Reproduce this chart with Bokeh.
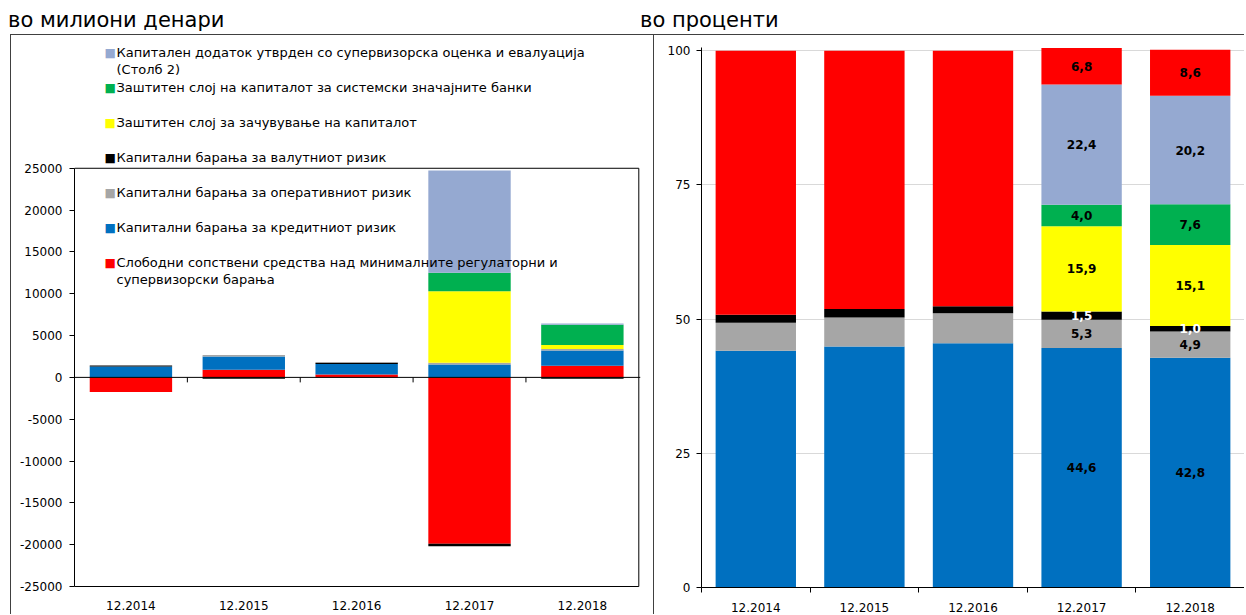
import numpy as np
from bokeh.plotting import figure
from bokeh.models import ColumnDataSource, FixedTicker, Label, Span, Div, Range1d, BoxAnnotation
from bokeh.layouts import row, column
from bokeh.embed import file_html
from bokeh.resources import INLINE
from bokeh.core.properties import value

# ---------------- data ----------------
categories = ["12.2014", "12.2015", "12.2016", "12.2017", "12.2018"]

title_left = "во милиони денари"
title_right = "во проценти"

series_keys = ["pillar2", "systemic", "conserv", "fx", "oper", "credit", "free"]
legend_lines = {
    "pillar2": ["Капитален додаток утврден со супервизорска оценка и евалуација", "(Столб 2)"],
    "systemic": ["Заштитен слој на капиталот за системски значајните банки"],
    "conserv": ["Заштитен слој за зачувување на капиталот"],
    "fx": ["Капитални барања за валутниот ризик"],
    "oper": ["Капитални барања за оперативниот ризик"],
    "credit": ["Капитални барања за кредитниот ризик"],
    "free": ["Слободни сопствени средства над минималните регулаторни и", "супервизорски барања"],
}
colors = {
    "pillar2": "#95A9D1",
    "systemic": "#00B050",
    "conserv": "#FFFF00",
    "fx": "#000000",
    "oper": "#A6A6A6",
    "credit": "#0070C0",
    "free": "#FF0000",
}

# left panel: millions of denars
free_mkd = [-1750, 910, 355, -19900, 1400]
credit_mkd = [1300, 1580, 1250, 1540, 1800]
fx_mkd = [130, -150, 130, -300, -150]
oper_mkd = [0, 200, 90, 220, 200]
conserv_mkd = [0, 0, 0, 8550, 470]
systemic_mkd = [0, 0, 0, 2210, 2410]
pillar2_mkd = [0, 0, 0, 12210, 170]

# right panel: percent
credit_pct = [44.1, 44.9, 45.5, 44.6, 42.8]
oper_pct = [5.2, 5.4, 5.6, 5.3, 4.9]
fx_pct = [1.5, 1.6, 1.3, 1.5, 1.0]
conserv_pct = [0, 0, 0, 15.9, 15.1]
systemic_pct = [0, 0, 0, 4.0, 7.6]
pillar2_pct = [0, 0, 0, 22.4, 20.2]
free_pct = [49.2, 48.1, 47.6, 6.8, 8.6]
labelled_periods = ["12.2017", "12.2018"]

left_y_ticks = list(range(-25000, 25001, 5000))
right_y_ticks = [0, 25, 50, 75, 100]

mkd = dict(free=free_mkd, credit=credit_mkd, fx=fx_mkd, oper=oper_mkd,
           conserv=conserv_mkd, systemic=systemic_mkd, pillar2=pillar2_mkd)
pct = dict(credit=credit_pct, oper=oper_pct, fx=fx_pct, conserv=conserv_pct,
           systemic=systemic_pct, pillar2=pillar2_pct, free=free_pct)

n = len(categories)
xc = np.arange(n) + 0.5
overrides = {float(x): c for x, c in zip(xc, categories)}

FONT = "DejaVu Sans"
BORDER = "1px solid #404040"

# ---------------- layout constants (pixels) ----------------
TITLE_H = 34
CANVAS_TOP = TITLE_H + 1          # page y of the first canvas row
CANVAS_H = 580
L_W, R_W = 643, 591
L_TOP = 12                        # frame top inside left canvas
L_BOTTOM = 27                     # space below the frame in the left panel
AREA_TOP_PAGE = 168               # page y of the plot-area top (25000)
PAD = 1.0                         # keeps the plot-area bottom line inside the frame
L_FRAME_H = CANVAS_H - L_BOTTOM - L_TOP
L_AREA_TOP = AREA_TOP_PAGE - CANVAS_TOP - L_TOP
L_AREA_H = L_FRAME_H - L_AREA_TOP - PAD
FRAME_BOTTOM_PAGE = CANVAS_TOP + CANVAS_H - L_BOTTOM

# ---------------- left figure ----------------
y_min, y_max = left_y_ticks[0], left_y_ticks[-1]
units_per_px = (y_max - y_min) / L_AREA_H
y_end = y_max + L_AREA_TOP * units_per_px
y_start = y_min - PAD * units_per_px

pl = figure(width=L_W, height=CANVAS_H, x_range=Range1d(0, n * 1.003), y_range=Range1d(y_start, y_end),
            title=None, output_backend="svg", toolbar_location=None, tools="",
            min_border_left=63, min_border_right=14, min_border_top=L_TOP, min_border_bottom=L_BOTTOM,
            outline_line_color=None,
            background_fill_color="white", border_fill_color="white", margin=(0, 0, 0, 10),
            styles={"border-left": BORDER, "border-top": BORDER})
pl.grid.visible = False

left_order = ["free", "credit", "fx", "oper", "conserv", "systemic", "pillar2"]
pos = np.zeros(n)
neg = np.zeros(n)
for k in left_order:
    v = np.array(mkd[k], dtype=float)
    bottom = np.where(v >= 0, pos, neg + v)
    top = np.where(v >= 0, pos + v, neg)
    pos = pos + np.where(v > 0, v, 0)
    neg = neg + np.where(v < 0, v, 0)
    src = ColumnDataSource(dict(x=xc, bottom=bottom, top=top))
    pl.vbar(x="x", bottom="bottom", top="top", width=0.73, source=src,
            fill_color=colors[k], line_color=None)

# plot-area box
pl.add_layout(BoxAnnotation(left=0, right=n, bottom=y_min, top=y_max, fill_alpha=0,
                            line_color="black", line_width=1, line_alpha=1))
# zero line and category separators on it
pl.add_layout(Span(location=0, dimension="width", line_color="black", line_width=1))
bounds = np.arange(1, n)
pl.segment(x0=bounds, y0=np.zeros(len(bounds)), x1=bounds, y1=np.full(len(bounds), -5 * units_per_px),
           line_color="black", line_width=1)

xa = pl.xaxis[0]
xa.ticker = FixedTicker(ticks=list(xc))
xa.major_label_overrides = overrides
xa.major_tick_out = 0
xa.major_tick_in = 0
xa.major_tick_line_color = None
xa.minor_tick_line_color = None
xa.axis_line_color = None
xa.major_label_standoff = 13
xa.major_label_text_font = FONT
xa.major_label_text_font_size = "12px"
xa.major_label_text_color = "black"

ya = pl.yaxis[0]
ya.ticker = FixedTicker(ticks=left_y_ticks)
ya.bounds = (y_min, y_max)
ya.major_label_overrides = {t: str(t) for t in left_y_ticks}
ya.major_tick_out = 5
ya.major_tick_in = 0
ya.minor_tick_line_color = None
ya.axis_line_color = "black"
ya.major_tick_line_color = "black"
ya.major_label_standoff = 7
ya.major_label_text_font = FONT
ya.major_label_text_font_size = "12px"
ya.major_label_text_color = "black"

# legend (screen units: from left / bottom of the plot frame)
first_row_page = 53      # page y of the first legend row centre
row_step = 35
line_step = 16.5
for i, k in enumerate(series_keys):
    yc = first_row_page + i * row_step
    pl.add_layout(Label(x=30, y=FRAME_BOTTOM_PAGE - yc, x_units="screen", y_units="screen",
                        text="■", text_color=colors[k], text_font=FONT,
                        text_font_size="12px", text_baseline="middle", text_align="left"))
    for j, line in enumerate(legend_lines[k]):
        pl.add_layout(Label(x=42, y=FRAME_BOTTOM_PAGE - (yc + j * line_step), x_units="screen", y_units="screen",
                            text=line, text_color="black", text_font=FONT,
                            text_font_size="13px", text_baseline="middle", text_align="left"))

# ---------------- right figure ----------------
pr = figure(width=R_W, height=CANVAS_H, x_range=Range1d(0, n), y_range=Range1d(0, 100.6),
            title=None, output_backend="svg", toolbar_location=None, tools="",
            min_border_left=47, min_border_right=1, min_border_top=11, min_border_bottom=28,
            outline_line_color=None,
            background_fill_color="white", border_fill_color="white", margin=0,
            styles={"border-left": BORDER, "border-top": BORDER})
pr.xgrid.visible = False
pr.ygrid.ticker = FixedTicker(ticks=right_y_ticks)
pr.ygrid.grid_line_color = "#D9D9D9"
pr.ygrid.grid_line_width = 1

right_order = ["credit", "oper", "fx", "conserv", "systemic", "pillar2", "free"]
cum = np.zeros(n)
lab_x, lab_y, lab_t, lab_c = [], [], [], []
for k in right_order:
    v = np.array(pct[k], dtype=float)
    bottom = cum.copy()
    top = cum + v
    cum = top
    src = ColumnDataSource(dict(x=xc, bottom=bottom, top=top))
    pr.vbar(x="x", bottom="bottom", top="top", width=0.74, source=src,
            fill_color=colors[k], line_color=None)
    for i, c in enumerate(categories):
        if c in labelled_periods and v[i] > 0:
            lab_x.append(xc[i])
            lab_y.append((bottom[i] + top[i]) / 2)
            lab_t.append(f"{v[i]:.1f}".replace(".", ","))
            lab_c.append("white" if k == "fx" else "black")

lsrc = ColumnDataSource(dict(x=lab_x, y=lab_y, t=lab_t, c=lab_c))
pr.text(x="x", y="y", text="t", text_color="c", source=lsrc, text_font=value(FONT),
        text_font_style="bold", text_font_size="12px", text_align="center", text_baseline="middle")

xr = pr.xaxis[0]
xr.ticker = FixedTicker(ticks=list(xc), minor_ticks=list(range(0, n + 1)))
xr.major_label_overrides = overrides
xr.major_tick_out = 0
xr.major_tick_in = 0
xr.minor_tick_out = 5
xr.minor_tick_in = 0
xr.minor_tick_line_color = "black"
xr.axis_line_color = "black"
xr.major_label_standoff = 10
xr.major_label_text_font = FONT
xr.major_label_text_font_size = "12px"
xr.major_label_text_color = "black"

yr = pr.yaxis[0]
yr.ticker = FixedTicker(ticks=right_y_ticks)
yr.major_tick_out = 5
yr.major_tick_in = 0
yr.minor_tick_line_color = None
yr.axis_line_color = "black"
yr.major_tick_line_color = "black"
yr.major_label_standoff = 6
yr.major_label_text_font = FONT
yr.major_label_text_font_size = "12px"
yr.major_label_text_color = "black"

# ---------------- titles ----------------
title_html = (
    f'<div style="position:relative;width:1246px;height:{TITLE_H}px;font-family:\'DejaVu Sans\';'
    'font-size:21px;line-height:24px;color:#000;">'
    f'<span style="position:absolute;left:8px;top:8px;white-space:nowrap">{title_left}</span>'
    f'<span style="position:absolute;left:640px;top:8px;white-space:nowrap">{title_right}</span>'
    '</div>'
)
titles = Div(text=title_html, width=1246, height=TITLE_H, margin=0)

layout = column(titles, row(pl, pr, margin=0, spacing=0), margin=0, spacing=0)

open("out.html", "w").write(file_html(layout, INLINE))
